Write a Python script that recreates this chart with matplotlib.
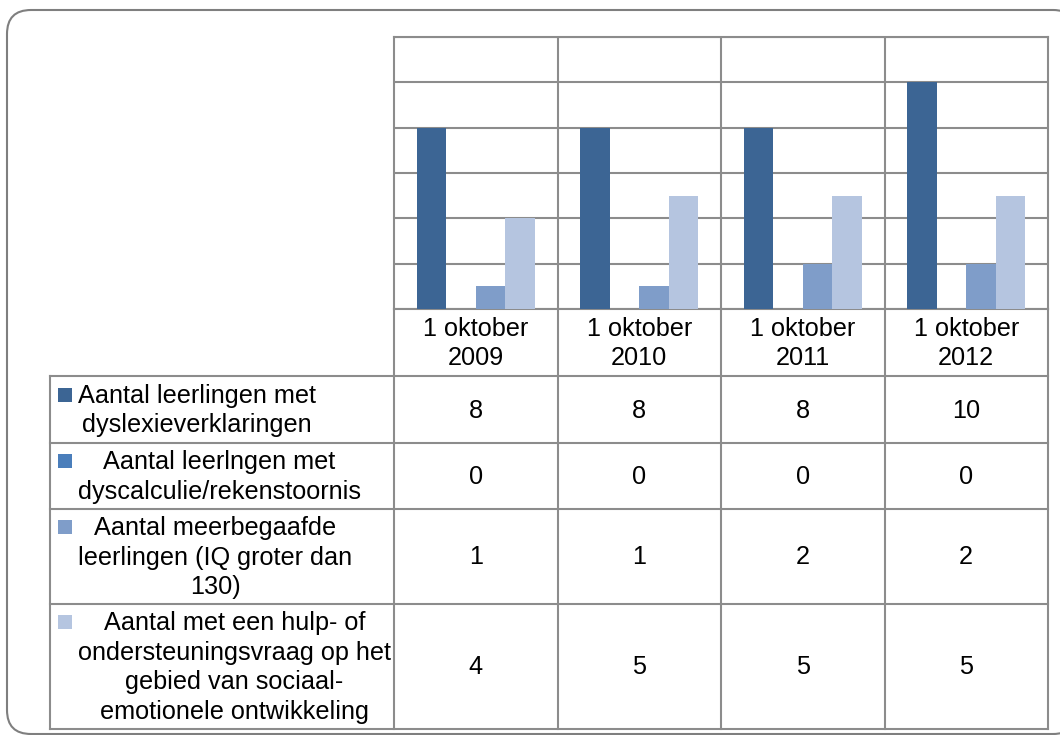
import matplotlib.pyplot as plt
from matplotlib.patches import FancyBboxPatch, Rectangle

# data
categories = ["1 oktober\n2009", "1 oktober\n2010", "1 oktober\n2011", "1 oktober\n2012"]
series_names = [
    "Aantal leerlingen met\ndyslexieverklaringen",
    "Aantal leerlngen met\ndyscalculie/rekenstoornis",
    "Aantal meerbegaafde\nleerlingen (IQ groter dan\n130)",
    "Aantal met een hulp- of\nondersteuningsvraag op het\ngebied van sociaal-\nemotionele ontwikkeling",
]
dyslexie = [8, 8, 8, 10]
dyscalculie = [0, 0, 0, 0]
meerbegaafd = [1, 1, 2, 2]
sociaal_emotioneel = [4, 5, 5, 5]
values = [dyslexie, dyscalculie, meerbegaafd, sociaal_emotioneel]
colors = ["#3C6594", "#4A7EBB", "#7F9DC9", "#B5C5E0"]

W, H = 1060, 735
GRID = "#8C8C8C"
FONT = "Liberation Sans"
FS = 18.2
LS = 1.3

fig = plt.figure(figsize=(W / 100, H / 100), dpi=100)

# pixel-space overlay for the frame and the data table
over = fig.add_axes([0, 0, 1, 1])
over.set_xlim(0, W)
over.set_ylim(H, 0)
over.axis("off")
over.add_patch(FancyBboxPatch((7, 10), 1070, 724, boxstyle="round,pad=0,rounding_size=24",
                              fc="white", ec="#7F7F7F", lw=1.5, zorder=0))

# plot area
px0, py0, px1, py1 = 394, 37, 1048, 309
ax = fig.add_axes([px0 / W, 1 - py1 / H, (px1 - px0) / W, (py1 - py0) / H])
ax.set_facecolor("none")
n = len(categories)
bw = 0.18
for k, (vals, c) in enumerate(zip(values, colors)):
    xs = [i + (k - 1.5) * bw for i in range(n)]
    ax.bar(xs, vals, width=bw, color=c, zorder=3)
ax.set_xlim(-0.5, n - 0.5)
ax.set_ylim(0, 12)
ax.set_yticks(range(0, 13, 2))
ax.set_xticks([i + 0.5 for i in range(n - 1)])
ax.grid(True, color=GRID, lw=1.5, zorder=1)
ax.tick_params(length=0, labelleft=False, labelbottom=False)
for s in ax.spines.values():
    s.set_color(GRID)
    s.set_linewidth(1.5)

# data table
tx0 = 50
col_edges = [px0 + (px1 - px0) * i / n for i in range(n + 1)]
row_edges = [376, 443, 509, 604, 729]
line_px = 29.5

for y in row_edges:
    over.plot([tx0, px1], [y, y], color=GRID, lw=1.5, zorder=2)
over.plot([tx0, tx0], [row_edges[0], row_edges[-1]], color=GRID, lw=1.5, zorder=2)
for x in col_edges:
    over.plot([x, x], [py1, row_edges[-1]], color=GRID, lw=1.5, zorder=2)

for i, cat in enumerate(categories):
    cx = (col_edges[i] + col_edges[i + 1]) / 2
    over.text(cx, (py1 + row_edges[0]) / 2 + 1, cat, ha="center", va="center",
              multialignment="center", fontsize=FS, family=FONT, linespacing=LS)

for r, (name, vals, c) in enumerate(zip(series_names, values, colors)):
    cy = (row_edges[r] + row_edges[r + 1]) / 2
    nlines = name.count("\n") + 1
    first = cy - (nlines - 1) / 2 * line_px
    over.add_patch(Rectangle((58, first - 7), 14, 14, fc=c, ec="none", zorder=3))
    over.text(78, cy + 1, name, ha="left", va="center", multialignment="center",
              fontsize=FS, family=FONT, linespacing=LS)
    for i, v in enumerate(vals):
        cx = (col_edges[i] + col_edges[i + 1]) / 2
        over.text(cx, cy + 1, str(v), ha="center", va="center", fontsize=FS, family=FONT)

fig.savefig("out.png", dpi=100)
